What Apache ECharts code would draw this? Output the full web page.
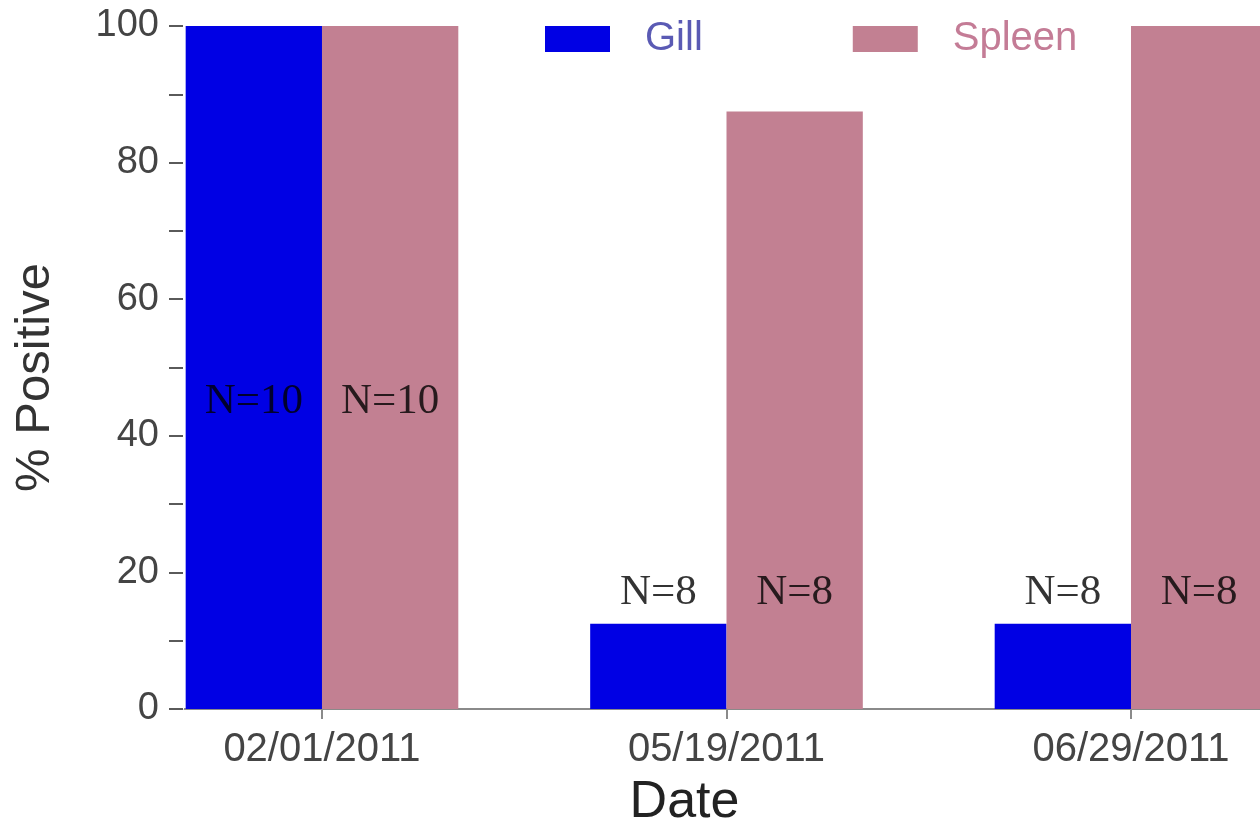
<!DOCTYPE html>
<html>
<head>
<meta charset="utf-8">
<script src="https://cdn.jsdelivr.net/npm/echarts@6/dist/echarts.min.js"></script>
<style>
html,body{margin:0;padding:0;background:#fff;}
#chart{width:1260px;height:821px;}
</style>
</head>
<body>
<div id="chart"></div>
<script>
// ---- data ----
const categories = ['02/01/2011', '05/19/2011', '06/29/2011'];
const gillValues = [100, 12.5, 12.5];
const spleenValues = [100, 87.5, 100];
const gillN = ['N=10', 'N=8', 'N=8'];
const spleenN = ['N=10', 'N=8', 'N=8'];
const nLabelLevels = [45, 17, 17];
const yTicks = [0, 20, 40, 60, 80, 100];

// ---- layout constants ----
const BAR_FRAC = 0.337;          // bar width as fraction of category spacing
const X_MIN = -0.3436, X_MAX = 2.3189;
const GILL_COLOR = '#0000e4';
const SPLEEN_COLOR = '#c28092';

const idx = categories.map((c, i) => i);
const gillData = idx.map(i => [i, gillValues[i]]);
const spleenData = idx.map(i => [i, spleenValues[i]]);
const half = BAR_FRAC / 2;
const labelData = [];
idx.forEach(i => {
  labelData.push({ value: [i - half, nLabelLevels[i]], text: gillN[i] });
  labelData.push({ value: [i + half, nLabelLevels[i]], text: spleenN[i] });
});

const chart = echarts.init(document.getElementById('chart'), null, { renderer: 'canvas' });
chart.setOption({
  animation: false,
  backgroundColor: '#ffffff',
  grid: { left: 183, right: 0, top: 26, bottom: 112, outerBoundsMode: 'none', containLabel: false },
  legend: {
    data: [
      { name: 'Gill', textStyle: { color: '#5a5ab4' } },
      { name: 'Spleen', textStyle: { color: '#c47c96' } }
    ],
    left: 540, top: 14,
    itemWidth: 65, itemHeight: 26, itemGap: 150,
    icon: 'rect',
    textStyle: { fontFamily: 'Liberation Sans, Arial, sans-serif', fontSize: 40, padding: [0, 0, 0, 30] }
  },
  xAxis: {
    type: 'value',
    min: X_MIN, max: X_MAX,
    name: 'Date',
    nameLocation: 'middle',
    nameGap: 68,
    nameTextStyle: { fontFamily: 'Liberation Sans, Arial, sans-serif', fontSize: 52, color: '#222', padding: [0, 74, 0, 0] },
    axisLine: { show: true, onZero: false, lineStyle: { color: '#8a8a8a', width: 2 } },
    axisTick: { show: true, customValues: idx, length: 10, lineStyle: { color: '#8a8a8a', width: 2 } },
    axisLabel: {
      customValues: idx,
      formatter: v => categories[Math.round(v)],
      fontFamily: 'Liberation Sans, Arial, sans-serif', fontSize: 40, color: '#444', margin: 21
    },
    splitLine: { show: false }
  },
  yAxis: {
    type: 'value',
    min: 0, max: 100, interval: 20,
    name: '% Positive',
    nameLocation: 'middle',
    nameGap: 123,
    nameTextStyle: { fontFamily: 'Liberation Sans, Arial, sans-serif', fontSize: 49, color: '#333', padding: [0, 20, 0, 0] },
    axisLine: { show: true, onZero: false, lineStyle: { color: '#ffffff', width: 2 } },
    axisTick: { show: true, inside: false, length: 14, lineStyle: { color: '#5a5a5a', width: 2 } },
    minorTick: { show: true, splitNumber: 2, length: 14, lineStyle: { color: '#5a5a5a', width: 2 } },
    axisLabel: {
      formatter: v => (yTicks.indexOf(v) >= 0 ? String(v) : ''),
      fontFamily: 'Liberation Sans, Arial, sans-serif', fontSize: 38, color: '#444', margin: 24
    },
    splitLine: { show: false },
    z: 5
  },
  series: [
    {
      name: 'Gill', type: 'bar', data: gillData,
      barWidth: (BAR_FRAC * 100) + '%', barGap: '0%',
      itemStyle: { color: GILL_COLOR }
    },
    {
      name: 'Spleen', type: 'bar', data: spleenData,
      barWidth: (BAR_FRAC * 100) + '%', barGap: '0%',
      itemStyle: { color: SPLEEN_COLOR }
    },
    {
      name: 'labels', type: 'scatter', data: labelData,
      symbolSize: 0, silent: true, z: 10,
      label: {
        show: true, position: 'inside',
        formatter: p => p.data.text,
        fontFamily: 'Liberation Serif, Times New Roman, serif', fontSize: 43, color: '#000'
      }
    }
  ]
});
</script>
</body>
</html>
